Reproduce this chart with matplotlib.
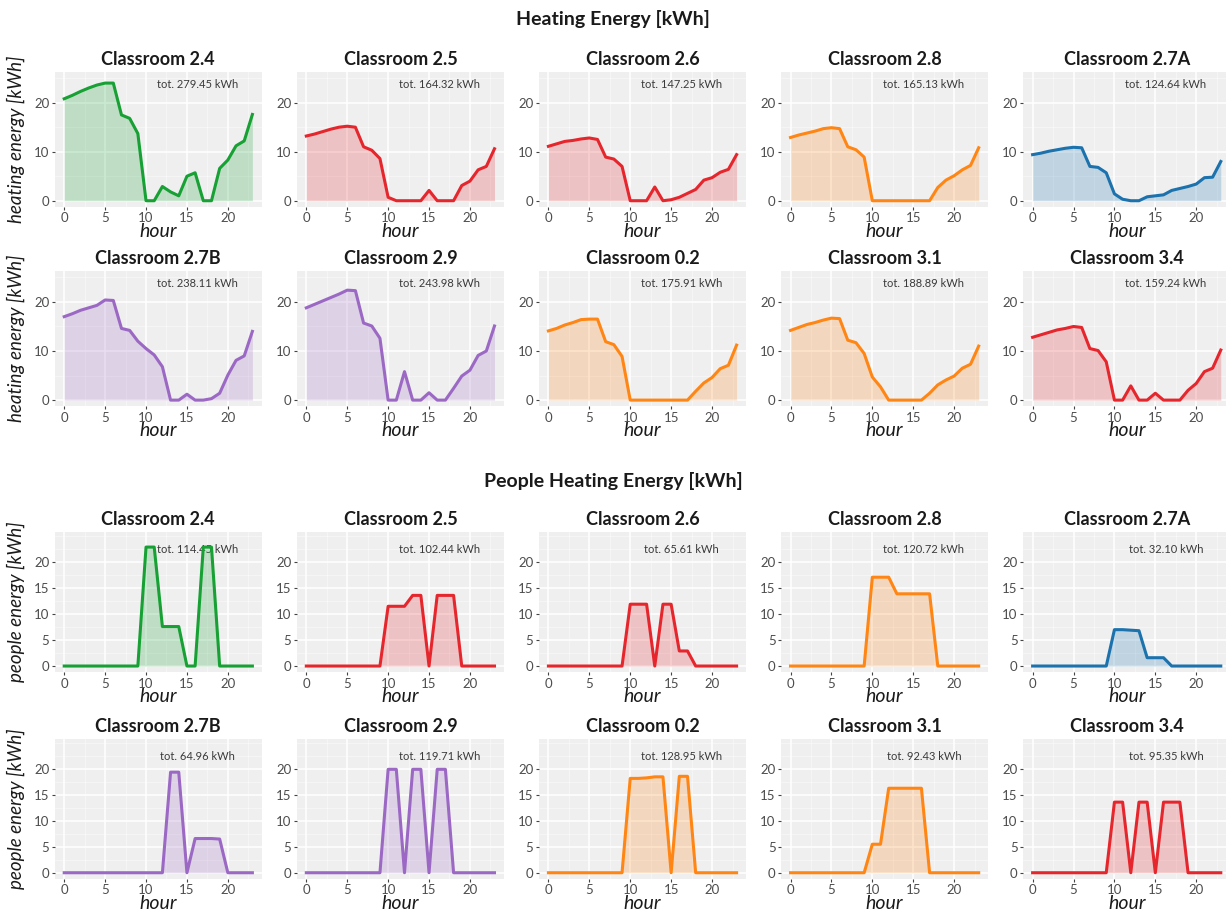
import matplotlib
matplotlib.use("Agg")
import matplotlib.pyplot as plt
from matplotlib.ticker import MultipleLocator, FixedLocator

plt.rcParams['font.family'] = ['Lato', 'DejaVu Sans']

# ---------------------------------------------------------------- data
hours = list(range(24))

rooms = ["Classroom 2.4", "Classroom 2.5", "Classroom 2.6", "Classroom 2.8", "Classroom 2.7A",
         "Classroom 2.7B", "Classroom 2.9", "Classroom 0.2", "Classroom 3.1", "Classroom 3.4"]

GREEN, RED, ORANGE, BLUE, PURPLE = "#17a034", "#e5262d", "#ff8614", "#1b72ad", "#9b68c4"
room_colors = [GREEN, RED, RED, ORANGE, BLUE, PURPLE, PURPLE, ORANGE, ORANGE, RED]

# hourly heating energy [kWh]
heat_2_4 = [20.8, 21.5, 22.3, 23.0, 23.6, 24.0, 24.0, 17.5, 16.8, 13.7, 0, 0,
            2.9, 1.8, 1.0, 5.0, 5.7, 0, 0, 6.6, 8.3, 11.2, 12.2, 17.6]
heat_2_5 = [13.2, 13.6, 14.1, 14.6, 15.0, 15.2, 15.0, 11.0, 10.3, 8.6, 0.7, 0,
            0, 0, 0, 2.1, 0, 0, 0, 3.1, 4.0, 6.3, 7.0, 10.6]
heat_2_6 = [11.1, 11.6, 12.1, 12.3, 12.6, 12.8, 12.5, 8.9, 8.5, 7.0, 0, 0,
            0, 2.8, 0, 0.2, 0.7, 1.5, 2.3, 4.2, 4.7, 5.8, 6.4, 9.4]
heat_2_8 = [12.9, 13.4, 13.8, 14.2, 14.7, 14.9, 14.7, 11.0, 10.4, 8.9, 0, 0,
            0, 0, 0, 0, 0, 0, 2.7, 4.2, 5.1, 6.3, 7.2, 10.8]
heat_2_7A = [9.4, 9.7, 10.1, 10.4, 10.7, 10.9, 10.8, 7.0, 6.8, 5.7, 1.4, 0.3,
             0, 0, 0.8, 1.0, 1.2, 2.1, 2.5, 2.9, 3.4, 4.7, 4.8, 8.0]
heat_2_7B = [17.0, 17.6, 18.3, 18.8, 19.3, 20.4, 20.3, 14.6, 14.2, 12.0, 10.5, 9.2,
             6.8, 0, 0, 1.2, 0, 0, 0.3, 1.4, 5.1, 8.1, 9.0, 14.0]
heat_2_9 = [18.8, 19.5, 20.2, 20.9, 21.6, 22.4, 22.3, 15.7, 15.1, 12.6, 0, 0,
            5.8, 0, 0, 1.5, 0, 0, 2.4, 4.9, 6.1, 9.1, 10.0, 15.1]
heat_0_2 = [14.1, 14.6, 15.3, 15.8, 16.4, 16.5, 16.5, 11.9, 11.3, 8.9, 0, 0,
            0, 0, 0, 0, 0, 0, 1.8, 3.5, 4.6, 6.4, 7.1, 11.2]
heat_3_1 = [14.2, 14.8, 15.4, 15.8, 16.3, 16.7, 16.6, 12.2, 11.7, 9.5, 4.7, 2.7,
            0, 0, 0, 0, 0, 1.4, 3.1, 4.1, 4.9, 6.5, 7.3, 11.0]
heat_3_4 = [12.8, 13.3, 13.8, 14.3, 14.6, 15.0, 14.8, 10.5, 10.1, 7.8, 0, 0,
            2.9, 0, 0, 1.4, 0, 0, 0, 2.0, 3.4, 5.8, 6.5, 10.2]

heat_totals = [279.45, 164.32, 147.25, 165.13, 124.64, 238.11, 243.98, 175.91, 188.89, 159.24]

# hourly heating energy from occupants [kWh]
ppl_2_4 = [0, 0, 0, 0, 0, 0, 0, 0, 0, 0, 22.9, 22.9,
           7.6, 7.6, 7.6, 0, 0, 22.9, 22.9, 0, 0, 0, 0, 0]
ppl_2_5 = [0, 0, 0, 0, 0, 0, 0, 0, 0, 0, 11.5, 11.5,
           11.5, 13.6, 13.6, 0, 13.6, 13.6, 13.6, 0, 0, 0, 0, 0]
ppl_2_6 = [0, 0, 0, 0, 0, 0, 0, 0, 0, 0, 11.9, 11.9,
           11.9, 0, 11.9, 11.9, 2.9, 2.9, 0, 0, 0, 0, 0, 0]
ppl_2_8 = [0, 0, 0, 0, 0, 0, 0, 0, 0, 0, 17.1, 17.1,
           17.1, 13.9, 13.9, 13.9, 13.9, 13.9, 0, 0, 0, 0, 0, 0]
ppl_2_7A = [0, 0, 0, 0, 0, 0, 0, 0, 0, 0, 7.0, 7.0,
            6.9, 6.8, 1.6, 1.6, 1.6, 0, 0, 0, 0, 0, 0, 0]
ppl_2_7B = [0, 0, 0, 0, 0, 0, 0, 0, 0, 0, 0, 0,
            0, 19.4, 19.4, 0, 6.6, 6.6, 6.6, 6.5, 0, 0, 0, 0]
ppl_2_9 = [0, 0, 0, 0, 0, 0, 0, 0, 0, 0, 19.95, 19.95,
           0, 19.95, 19.95, 0, 19.95, 19.95, 0, 0, 0, 0, 0, 0]
ppl_0_2 = [0, 0, 0, 0, 0, 0, 0, 0, 0, 0, 18.2, 18.2,
           18.3, 18.5, 18.5, 0, 18.6, 18.6, 0, 0, 0, 0, 0, 0]
ppl_3_1 = [0, 0, 0, 0, 0, 0, 0, 0, 0, 0, 5.5, 5.5,
           16.3, 16.3, 16.3, 16.3, 16.3, 0, 0, 0, 0, 0, 0, 0]
ppl_3_4 = [0, 0, 0, 0, 0, 0, 0, 0, 0, 0, 13.62, 13.62,
           0, 13.62, 13.62, 0, 13.62, 13.62, 13.62, 0, 0, 0, 0, 0]

ppl_totals = [114.45, 102.44, 65.61, 120.72, 32.10, 64.96, 119.71, 128.95, 92.43, 95.35]

heat_series = [heat_2_4, heat_2_5, heat_2_6, heat_2_8, heat_2_7A,
               heat_2_7B, heat_2_9, heat_0_2, heat_3_1, heat_3_4]
ppl_series = [ppl_2_4, ppl_2_5, ppl_2_6, ppl_2_8, ppl_2_7A,
              ppl_2_7B, ppl_2_9, ppl_0_2, ppl_3_1, ppl_3_4]

# ---------------------------------------------------------------- layout
W, H = 1226, 911
fig = plt.figure(figsize=(W / 100, H / 100), dpi=100)
fig.patch.set_facecolor("white")

PANEL_BG = "#efefef"
TXT = "#1a1a1a"
TICK_TXT = "#4d4d4d"

col_left = [54.8 + 242.1 * i for i in range(5)]
panel_w = 207
# (top, bottom) of each row in pixels
heat_rows = [(71.8, 206.6), (271.0, 406.0)]
ppl_rows = [(532.0, 672.0), (739.0, 878.7)]


def make_axes(top, bottom, left):
    return fig.add_axes([left / W, 1 - bottom / H, panel_w / W, (bottom - top) / H])


def draw_panel(ax, y, color, title, total, ylim, yticks, tot_y, ylabel):
    ax.set_facecolor(PANEL_BG)
    for s in ax.spines.values():
        s.set_visible(False)
    ax.fill_between(hours, 0, y, color=color, alpha=0.22, lw=0, zorder=2)
    ax.plot(hours, y, color=color, lw=2.2, solid_joinstyle="round", zorder=3)
    ax.set_xlim(-1.15, 24.15)
    ax.set_ylim(*ylim)
    ax.xaxis.set_major_locator(FixedLocator([0, 5, 10, 15, 20]))
    ax.xaxis.set_minor_locator(FixedLocator([2.5, 7.5, 12.5, 17.5, 22.5]))
    ax.yaxis.set_major_locator(FixedLocator(yticks))
    step = yticks[1] - yticks[0]
    ax.yaxis.set_minor_locator(MultipleLocator(step / 2))
    ax.grid(which="major", color="white", lw=1.1, zorder=0)
    ax.grid(which="minor", color="white", lw=0.5, alpha=0.6, zorder=0)
    ax.set_axisbelow(True)
    ax.tick_params(which="major", direction="out", length=2.5, width=0.8,
                   color="#444444", labelcolor=TICK_TXT, labelsize=9.5, pad=1.5)
    ax.tick_params(which="minor", length=0)
    ax.set_title(title, fontsize=13, fontweight="bold", color=TXT, pad=5)
    ax.text(16.3, tot_y, f"tot. {total:.2f} kWh", fontsize=8, color="#3a3a3a",
            ha="center", va="center", zorder=1.5)
    ax.set_xlabel("hour", fontsize=14, style="italic", color=TXT, labelpad=-1)
    if ylabel:
        pos = ax.get_position()
        fig.text(16 / W, pos.y0 + pos.height / 2, ylabel, rotation=90, ha="center",
                 va="center", fontsize=13.5, style="italic", color=TXT)


for r, (top, bottom) in enumerate(heat_rows):
    for c in range(5):
        k = r * 5 + c
        ax = make_axes(top, bottom, col_left[c])
        draw_panel(ax, heat_series[k], room_colors[k], rooms[k], heat_totals[k],
                   (-1.2, 26.3), [0, 10, 20], 23.8,
                   "heating energy [kWh]" if c == 0 else None)

for r, (top, bottom) in enumerate(ppl_rows):
    for c in range(5):
        k = r * 5 + c
        ax = make_axes(top, bottom, col_left[c])
        draw_panel(ax, ppl_series[k], room_colors[k], rooms[k], ppl_totals[k],
                   (-1.15, 25.8), [0, 5, 10, 15, 20], 22.5,
                   "people energy [kWh]" if c == 0 else None)

fig.text(0.5, 1 - 19 / H, "Heating Energy [kWh]", ha="center", va="center",
         fontsize=14, fontweight="bold", color=TXT)
fig.text(0.5, 1 - 481 / H, "People Heating Energy [kWh]", ha="center", va="center",
         fontsize=14, fontweight="bold", color=TXT)

fig.savefig("out.png", dpi=100, facecolor="white")
